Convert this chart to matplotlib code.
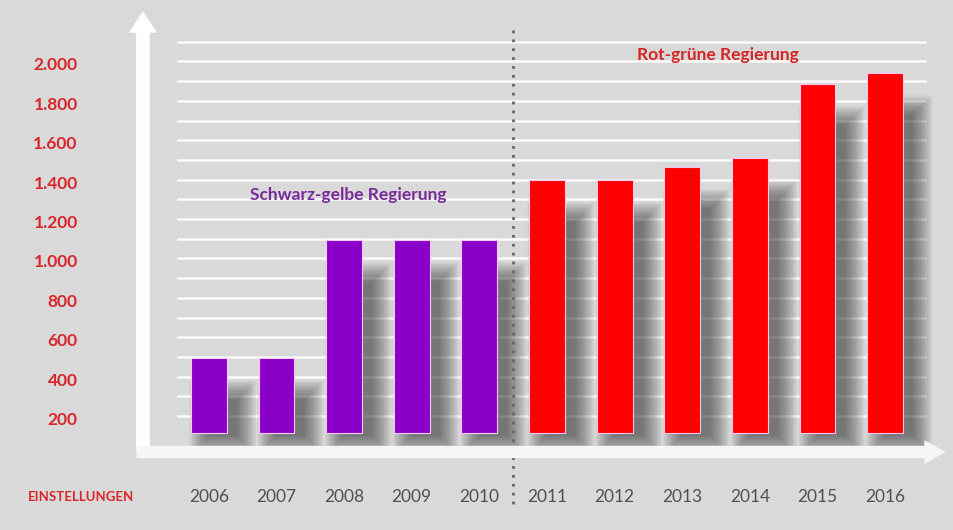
#!/usr/bin/env python3

import numpy as np
import matplotlib
matplotlib.use("Agg")
import matplotlib.pyplot as plt
from matplotlib.patches import FancyArrowPatch

years = ["2006", "2007", "2008", "2009", "2010", "2011", "2012", "2013", "2014", "2015", "2016"]
values = [515, 515, 1112, 1114, 1116, 1418, 1418, 1484, 1530, 1906, 1961]
ytick_values = [200, 400, 600, 800, 1000, 1200, 1400, 1600, 1800, 2000]
ytick_labels = ["200", "400", "600", "800", "1.000", "1.200", "1.400", "1.600", "1.800", "2.000"]

plt.rcParams['font.family'] = ['Lato', 'DejaVu Sans']

purple = "#8a00c8"
red = "#ff0000"
base = 134
x = np.arange(len(years))
colors = [purple] * 5 + [red] * 6

fig = plt.figure(figsize=(9.54, 5.30), dpi=100, facecolor="#d9d9d9")
ax = fig.add_axes([0, 0, 1, 1])
ax.set_facecolor("#d9d9d9")
ax.set_xlim(-3.09, 11.02)
ax.set_ylim(-358, 2332)
ax.axis("off")

# white grid lines
for g in np.arange(2120, 200, -100):
    ax.plot([-0.46, 10.59], [g, g], color="white", lw=1.8, alpha=0.9, zorder=1)

# soft shadow behind bars (stacked transparent layers)
px_x = 1 / 67.6
px_y = 5.076
heights = np.array(values) - base
for r in np.linspace(0, 1, 26):
    grow = r * 20
    ax.bar(x + 14 * px_x, heights - 40 * px_y + 2 * grow * px_y,
           width=0.4 + 2 * grow * px_x, bottom=base - 2 * px_y - grow * px_y,
           color="#3a3a3a", alpha=0.032, linewidth=0, zorder=2)

# bars
ax.bar(x, heights, width=0.53, bottom=base, color=colors,
       edgecolor="#f4c8f0", linewidth=0.8, zorder=3)

# dotted separator
ax.plot([4.5, 4.5], [2180, -231], color="#666666", lw=2, ls=(0, (1, 2.2)), zorder=4)

# axis arrows
ya = FancyArrowPatch((-0.976, 48), (-0.976, 2270), arrowstyle="simple,head_width=0.55,head_length=0.42,tail_width=0.26",
                     mutation_scale=34, color="white", shrinkA=0, shrinkB=0, zorder=5)
ax.add_patch(ya)
xa = FancyArrowPatch((-1.06, 38), (10.88, 38), arrowstyle="simple,head_width=0.55,head_length=0.5,tail_width=0.28",
                     mutation_scale=28, color="#f6f6f6", shrinkA=0, shrinkB=0, zorder=5)
ax.add_patch(xa)

# tick labels
for v, lab in zip(ytick_values, ytick_labels):
    ax.text(-1.94, v, lab, ha="right", va="center", fontsize=12.5,
            fontweight="bold", color="#d8262c")
for xi, lab in zip(x, years):
    ax.text(xi, -191, lab, ha="center", va="center", fontsize=12.5, color="#505050")
ax.text(-2.68, -191, "EINSTELLUNGEN", ha="left", va="center", fontsize=9.5,
        fontweight="bold", color="#d8262c")

ax.text(2.06, 1342, "Schwarz-gelbe Regierung", ha="center", va="center",
        fontsize=12.5, fontweight="bold", color="#7a2a9a")
ax.text(7.53, 2053, "Rot-grüne Regierung", ha="center", va="center",
        fontsize=12.5, fontweight="bold", color="#d42424")

fig.savefig("out.png", dpi=100, facecolor=fig.get_facecolor())
